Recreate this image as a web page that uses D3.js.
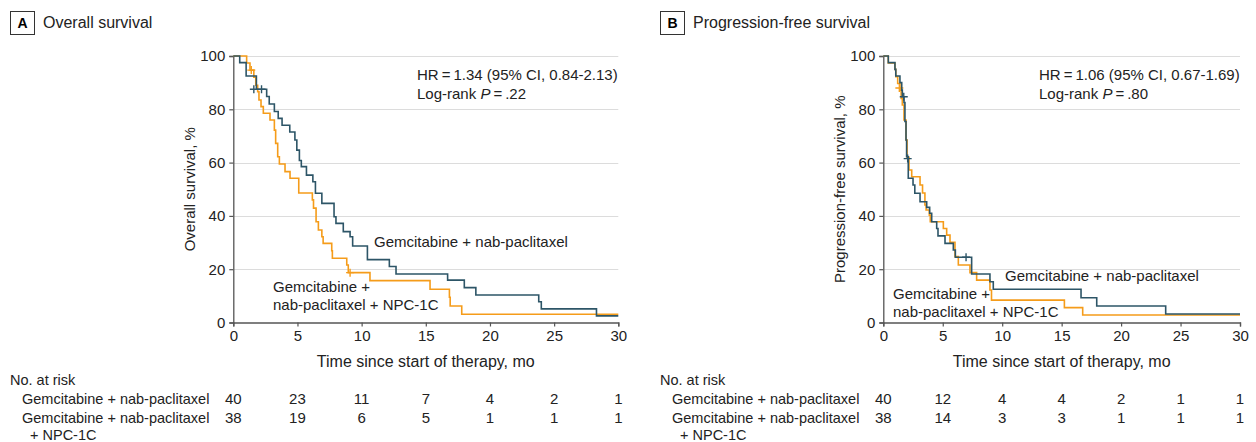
<!DOCTYPE html>
<html>
<head>
<meta charset="utf-8">
<script src="https://cdn.jsdelivr.net/npm/d3@7"></script>
<style>
  body { margin: 0; background: #fff; }
  svg { font-family: 'Liberation Sans', Arial, sans-serif; }
  .tick text { font-size: 15px; fill: #222; }
</style>
</head>
<body>
<svg id="chart" width="1256" height="442"></svg>
<script>
// Kaplan-Meier steps: [time (mo), survival %]
const osGem = [[0,100],[0.5,97.5],[1.0,92.5],[1.8,87.5],[2.6,84.8],[2.8,82],[3.2,79.2],[3.5,76.6],[3.8,74],[4.4,71.5],[4.8,68.5],[4.95,64.7],[5.15,60.8],[5.3,58.5],[5.7,55.3],[6.2,52.8],[6.4,48.5],[6.9,44.7],[7.85,39.7],[8.0,37.2],[8.57,34.1],[9.1,32.2],[9.3,28.7],[10.45,23.6],[12.16,21],[12.68,18.2],[16.7,15.9],[18.0,13.1],[18.9,10.3],[23.8,7.8],[24.0,5.1],[28.3,2.5],[30,2.5]]
const osNpc = [[0,100],[1.04,97.4],[1.3,94.7],[1.6,92],[1.75,89],[1.9,86.6],[2.0,83.5],[2.16,81],[2.34,78.5],[2.86,76],[3.2,72.2],[3.3,67.2],[3.46,62.2],[3.59,59.5],[4.03,56.6],[4.42,54.1],[5.1,48.6],[6.16,46],[6.25,42.9],[6.45,37.8],[6.63,34.7],[6.9,32.2],[7.0,29.7],[7.67,26.9],[7.72,24.1],[8.84,21.6],[8.96,18.7],[10.65,15.7],[15.33,12.5],[16.84,9.5],[16.9,6.2],[17.8,3.1],[30,3.1]]
const pfsGem = [[0,100],[0.42,97.5],[0.98,95],[1.05,92.5],[1.4,90],[1.55,87.2],[1.6,84.7],[1.74,82.5],[1.82,75.4],[1.91,68.5],[1.96,62.2],[2.1,54.1],[2.5,51.6],[2.65,48.5],[3.09,45.3],[3.65,43.2],[3.9,41],[4.07,37.8],[4.49,35.3],[4.6,32.5],[5.19,29.7],[5.89,27.2],[6.06,24.5],[7.43,18.2],[8.97,15.3],[9.25,12.5],[16.63,9.3],[17.95,6.2],[23.75,3.2],[30,3.2]]
const pfsNpc = [[0,100],[0.42,97.4],[0.98,95],[1.05,92.2],[1.21,89.7],[1.4,87.2],[1.5,84.1],[1.6,81.6],[1.74,76],[1.91,68.5],[2.0,62],[2.16,57.2],[2.39,54.7],[3.09,51.6],[3.3,48.6],[3.5,44.1],[3.6,42.2],[3.87,40.3],[3.95,37.8],[5.05,35.3],[5.33,32.8],[5.61,30.1],[6.03,24.7],[6.31,21.6],[7.29,18.7],[7.85,15.9],[8.97,12.2],[9.1,8.4],[15.23,5.6],[16.77,2.8],[30,2.8]]

// censor marks
const osGemCens = [[1.6,87.5],[2.2,87.5]]
const osNpcCens = [[1.4,94.7],[9.1,18.7]]
const pfsGemCens = [[1.72,84.7],[2.05,61.5],[6.96,24.5]]
const pfsNpcCens = [[1.35,88]]

const xTicks = [0, 5, 10, 15, 20, 25, 30]
const yTicks = [0, 20, 40, 60, 80, 100]
const riskLabels = ['Gemcitabine + nab-paclitaxel', 'Gemcitabine + nab-paclitaxel']
const osRiskGem = [40, 23, 11, 7, 4, 2, 1]
const osRiskNpc = [38, 19, 6, 5, 1, 1, 1]
const pfsRiskGem = [40, 12, 4, 4, 2, 1, 1]
const pfsRiskNpc = [38, 14, 3, 3, 1, 1, 1]

const BLUE = '#2d5567'
const ORANGE = '#f59c1a'

const svg = d3.select('#chart')

function drawPanel(p) {
  const g = svg.append('g')

  // panel letter + title
  g.append('rect')
    .attr('x', p.left + 0.5).attr('y', 11.5)
    .attr('width', 24).attr('height', 23)
    .attr('fill', 'none').attr('stroke', '#333')
  g.append('text')
    .attr('x', p.left + 12.5).attr('y', 28)
    .attr('text-anchor', 'middle')
    .style('font-size', '14px').style('font-weight', 'bold')
    .text(p.letter)
  g.append('text')
    .attr('x', p.left + 33).attr('y', 28)
    .style('font-size', '16px').attr('fill', '#222')
    .text(p.title)

  const x = d3.scaleLinear().domain([0, 30]).range([p.x0, p.x1])
  const y = d3.scaleLinear().domain([0, 100]).range([322.5, 56])

  // gridlines
  g.append('g')
    .selectAll('line')
    .data(yTicks.filter(d => d > 0))
    .join('line')
    .attr('x1', p.x0).attr('x2', p.x1)
    .attr('y1', d => Math.round(y(d)) + 0.5).attr('y2', d => Math.round(y(d)) + 0.5)
    .attr('stroke', '#dcdcdc').attr('stroke-width', 1.2)

  const yAxis = g.append('g')
    .attr('transform', `translate(${p.x0},0)`)
    .call(d3.axisLeft(y).tickValues(yTicks).tickSize(4).tickPadding(4))
  const xAxis = g.append('g')
    .attr('transform', 'translate(0,322.5)')
    .call(d3.axisBottom(x).tickValues(xTicks).tickSize(4).tickPadding(4))
  ;[xAxis, yAxis].forEach(a => {
    a.select('.domain').attr('stroke', '#555').attr('stroke-width', 1.3)
    a.selectAll('.tick line').attr('stroke', '#555').attr('stroke-width', 1.2)
    a.selectAll('.tick text').style('font-family', 'inherit')
  })

  // axis titles
  g.append('text')
    .attr('transform', `translate(${p.x0 - 38},${y(50)}) rotate(-90)`)
    .attr('text-anchor', 'middle')
    .style('font-size', '15px').attr('fill', '#222')
    .text(p.yTitle)
  g.append('text')
    .attr('x', (p.x0 + p.x1) / 2).attr('y', 367)
    .attr('text-anchor', 'middle')
    .style('font-size', '16px').attr('fill', '#222')
    .text('Time since start of therapy, mo')

  // curves
  const line = d3.line().x(d => x(d[0])).y(d => y(d[1])).curve(d3.curveStepAfter)
  ;[[p.npc, ORANGE, p.npcCens], [p.gem, BLUE, p.gemCens]].forEach(([data, col, cens]) => {
    g.append('path')
      .datum(data)
      .attr('d', line)
      .attr('fill', 'none').attr('stroke', col).attr('stroke-width', 1.6)
    g.append('g')
      .selectAll('path')
      .data(cens)
      .join('path')
      .attr('d', d => `M${x(d[0]) - 4},${y(d[1])}h8M${x(d[0])},${y(d[1]) - 4}v8`)
      .attr('stroke', col).attr('stroke-width', 1.4)
  })

  // HR annotation
  const hr = g.append('text').style('font-size', '15px').attr('fill', '#222')
  hr.append('tspan').attr('x', p.hrX).attr('y', 80).text(p.hr)
  const lr = g.append('text').style('font-size', '15px').attr('fill', '#222')
  lr.append('tspan').attr('x', p.hrX).attr('y', 99).text('Log-rank ')
  lr.append('tspan').style('font-style', 'italic').text('P')
  lr.append('tspan').text(p.pval)

  // curve labels
  g.append('text')
    .attr('x', p.gemLab[0]).attr('y', p.gemLab[1])
    .style('font-size', '15px').attr('fill', '#222')
    .text('Gemcitabine + nab-paclitaxel')
  const nl = g.append('text').style('font-size', '15px').attr('fill', '#222')
  nl.append('tspan').attr('x', p.npcLab[0]).attr('y', p.npcLab[1]).text('Gemcitabine +')
  nl.append('tspan').attr('x', p.npcLab[0]).attr('y', p.npcLab[1] + 18).text('nab-paclitaxel + NPC-1C')

  // number at risk
  g.append('text')
    .attr('x', p.left).attr('y', 385)
    .style('font-size', '14.5px').attr('fill', '#222')
    .text('No. at risk')
  const rows = [[riskLabels[0], p.riskGem, 404], [riskLabels[1], p.riskNpc, 423]]
  rows.forEach(([lab, vals, yy]) => {
    g.append('text')
      .attr('x', p.left + 12).attr('y', yy)
      .style('font-size', '14.5px').attr('fill', '#222')
      .text(lab)
    g.append('g')
      .selectAll('text')
      .data(vals)
      .join('text')
      .attr('x', (d, i) => x(xTicks[i]))
      .attr('y', yy)
      .attr('text-anchor', 'middle')
      .style('font-size', '15px').attr('fill', '#222')
      .text(d => d)
  })
  g.append('text')
    .attr('x', p.left + 20).attr('y', 440)
    .style('font-size', '14.5px').attr('fill', '#222')
    .text('+ NPC-1C')
}

drawPanel({
  left: 10, letter: 'A', title: 'Overall survival', yTitle: 'Overall survival, %',
  x0: 233.3, x1: 618.3,
  gem: osGem, npc: osNpc, gemCens: osGemCens, npcCens: osNpcCens,
  hr: 'HR\u2009=\u20091.34 (95% CI, 0.84-2.13)', pval: '\u2009=\u2009.22', hrX: 417,
  gemLab: [374, 247], npcLab: [273, 292],
  riskGem: osRiskGem, riskNpc: osRiskNpc
})

drawPanel({
  left: 660, letter: 'B', title: 'Progression-free survival', yTitle: 'Progression-free survival, %',
  x0: 883.3, x1: 1240,
  gem: pfsGem, npc: pfsNpc, gemCens: pfsGemCens, npcCens: pfsNpcCens,
  hr: 'HR\u2009=\u20091.06 (95% CI, 0.67-1.69)', pval: '\u2009=\u2009.80', hrX: 1039,
  gemLab: [1005, 281], npcLab: [893, 299],
  riskGem: pfsRiskGem, riskNpc: pfsRiskNpc
})
</script>
</body>
</html>
